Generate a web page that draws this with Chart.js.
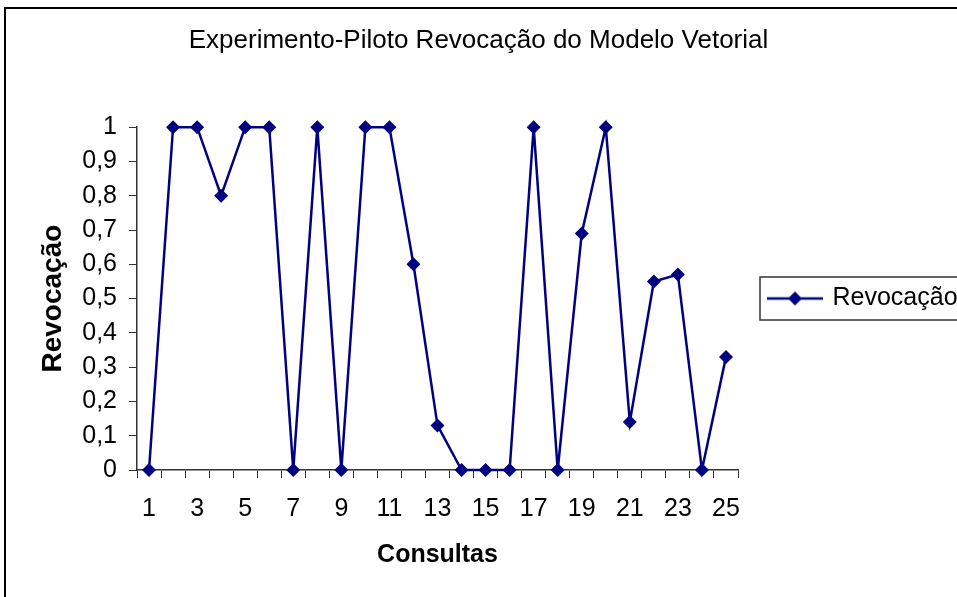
<!DOCTYPE html>
<html>
<head>
<meta charset="utf-8">
<script src="https://cdn.jsdelivr.net/npm/chart.js@4.4.1/dist/chart.umd.min.js"></script>
<style>
  html, body { margin: 0; padding: 0; background: #fff; }
  canvas { display: block; }
</style>
</head>
<body>
<canvas id="revChart" width="957" height="597"></canvas>
<script>
const consultas = ['1','2','3','4','5','6','7','8','9','10','11','12','13','14','15','16','17','18','19','20','21','22','23','24','25'];
const revocacao = [0, 1, 1, 0.8, 1, 1, 0, 1, 0, 1, 1, 0.6, 0.13, 0, 0, 0, 1, 0, 0.69, 1, 0.14, 0.55, 0.57, 0, 0.33];
const yTicks = [0, 0.1, 0.2, 0.3, 0.4, 0.5, 0.6, 0.7, 0.8, 0.9, 1];

const FONT = "'Liberation Sans', Arial, sans-serif";
const NAVY = '#000080';

// legend symbol: line with a diamond, like Excel
function legendSymbol(){
  const c = document.createElement('canvas');
  c.width = 56; c.height = 16;
  const g = c.getContext('2d');
  g.strokeStyle = NAVY;
  g.lineWidth = 2.5;
  g.beginPath(); g.moveTo(0, 8); g.lineTo(56, 8); g.stroke();
  g.fillStyle = NAVY;
  g.beginPath(); g.moveTo(28, 1); g.lineTo(35, 8); g.lineTo(28, 15); g.lineTo(21, 8); g.closePath(); g.fill();
  return c;
}
const symbol = legendSymbol();

// outer frame + legend box
const framePlugin = {
  id: 'frame',
  beforeDraw(chart){
    const ctx = chart.ctx;
    ctx.save();
    ctx.fillStyle = '#fff';
    ctx.fillRect(0, 0, chart.width, chart.height);
    ctx.strokeStyle = '#000';
    ctx.lineWidth = 2;
    ctx.strokeRect(5, 8, 1100, 1100);
    ctx.restore();
  },
  afterDraw(chart){
    const hb = chart.legend.legendHitBoxes[0];
    if (!hb) return;
    const ctx = chart.ctx;
    ctx.save();
    ctx.strokeStyle = '#333';
    ctx.lineWidth = 1.5;
    const cy = hb.top + hb.height / 2;
    ctx.strokeRect(hb.left - 10, cy - 21.5, 400, 43);
    ctx.restore();
  }
};

new Chart(document.getElementById('revChart'), {
  type: 'line',
  data: {
    labels: consultas,
    datasets: [{
      label: 'Revocação',
      data: revocacao,
      borderColor: NAVY,
      backgroundColor: NAVY,
      borderWidth: 2.5,
      tension: 0,
      clip: false,
      pointStyle: 'rectRot',
      pointRadius: 7,
      pointHoverRadius: 7,
      pointBorderWidth: 0
    }]
  },
  options: {
    responsive: false,
    animation: false,
    layout: { padding: 0 },
    plugins: {
      title: {
        display: true,
        text: 'Experimento-Piloto Revocação do Modelo Vetorial',
        color: '#000',
        font: { family: FONT, size: 26, weight: 'normal' },
        padding: { top: 25, bottom: 71 }
      },
      legend: {
        position: 'right',
        maxWidth: 219,
        labels: {
          color: '#000',
          font: { family: FONT, size: 25 },
          usePointStyle: true,
          pointStyleWidth: 50,
          padding: 32,
          generateLabels(chart){
            return [{
              text: 'Revocação',
              pointStyle: symbol,
              fillStyle: NAVY,
              strokeStyle: NAVY,
              lineWidth: 0,
              datasetIndex: 0
            }];
          }
        }
      },
      tooltip: { enabled: false }
    },
    scales: {
      x: {
        offset: true,
        afterFit(scale){ scale.height = 127; },
        grid: { display: true, drawOnChartArea: false, offset: true, tickLength: 8, color: '#333', lineWidth: 1 },
        border: { display: true, color: '#333', width: 1.5 },
        ticks: {
          color: '#000',
          font: { family: FONT, size: 25 },
          padding: 16,
          autoSkip: false,
          maxRotation: 0,
          callback(v, i){ return i % 2 === 0 ? consultas[i] : ''; }
        },
        title: {
          display: true,
          text: 'Consultas',
          color: '#000',
          font: { family: FONT, size: 25, weight: 'bold' },
          padding: { top: 10, bottom: 27 }
        }
      },
      y: {
        min: 0,
        max: 1,
        afterFit(scale){ scale.width = 137; },
        afterBuildTicks(scale){ scale.ticks = yTicks.map(v => ({ value: v })); },
        grid: { display: true, drawOnChartArea: false, tickLength: 8, color: '#333', lineWidth: 1 },
        border: { display: true, color: '#333', width: 1.5 },
        ticks: {
          color: '#000',
          font: { family: FONT, size: 25 },
          padding: 12,
          callback(v){ return String(Number(v.toFixed(1))).replace('.', ','); }
        },
        title: {
          display: true,
          text: 'Revocação',
          color: '#000',
          font: { family: FONT, size: 28, weight: 'bold' },
          padding: { top: 36, bottom: 0 }
        }
      }
    }
  },
  plugins: [framePlugin]
});
</script>
</body>
</html>
